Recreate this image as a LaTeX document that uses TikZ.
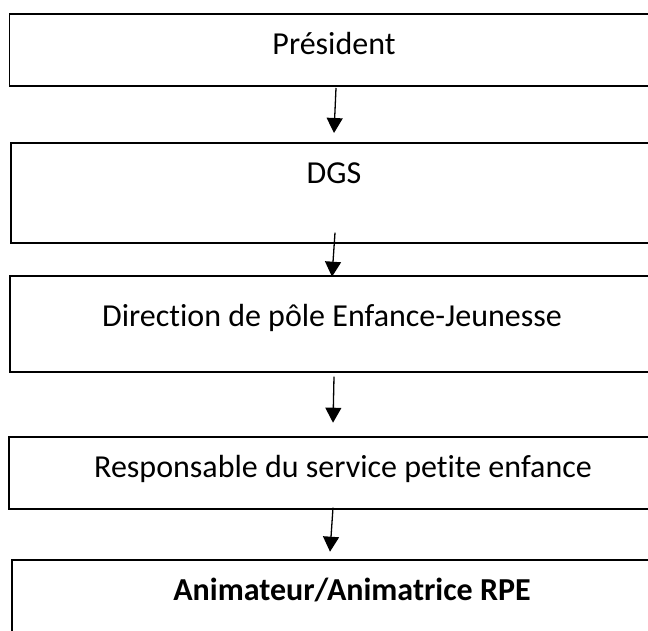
\documentclass[tikz,border=0pt]{standalone}
\usepackage{fontspec}
\setmainfont{Carlito}[Ligatures=NoCommon]
\usetikzlibrary{arrows.meta}
\begin{document}
\begin{tikzpicture}[x=1pt,y=-1pt,
  boxline/.style={draw=black,line width=1.8pt},
  lbl/.style={anchor=base,inner sep=0pt,font=\fontsize{32}{36}\selectfont},
  arr/.style={line width=1.3pt,-{Triangle[width=16pt,length=15pt]}}]
\useasboundingbox (0,0) rectangle (648,631);
\begin{scope}
\clip (0,0) rectangle (648,631);
% boxes
\draw[boxline] (9.5,14) coordinate (b1nw) rectangle (680,86) coordinate (b1se);
\draw[boxline] (11,142.7) coordinate (b2nw) rectangle (680,242.7) coordinate (b2se);
\draw[boxline] (10,276) coordinate (b3nw) rectangle (680,372) coordinate (b3se);
\draw[boxline] (9,437) coordinate (b4nw) rectangle (680,509) coordinate (b4se);
\draw[boxline] (12,560) coordinate (b5nw) rectangle (680,660) coordinate (b5se);
\end{scope}
% texts
\node[lbl] (t1) at (334,55) {Président};
\node[lbl] (t2) at (334,183.3) {DGS};
\node[lbl] (t3) at (332,326.7) {Direction de pôle Enfance-Jeunesse};
\node[lbl] (t4) at (343,477.7) {Responsable du service petite enfance};
\node[lbl,font=\fontsize{32}{36}\selectfont\bfseries] (t5) at (352,600) {Animateur/Animatrice RPE};
% arrows
\coordinate (a1s) at (336,88);   \coordinate (a1e) at (334,133);
\coordinate (a2s) at (335,232.7); \coordinate (a2e) at (332,276.7);
\coordinate (a3s) at (334,376.7); \coordinate (a3e) at (333,422.7);
\coordinate (a4s) at (333,507.7); \coordinate (a4e) at (330,551.7);
\draw[arr] (a1s) -- (a1e);
\draw[arr] (a2s) -- (a2e);
\draw[arr] (a3s) -- (a3e);
\draw[arr] (a4s) -- (a4e);
\end{tikzpicture}
\end{document}
